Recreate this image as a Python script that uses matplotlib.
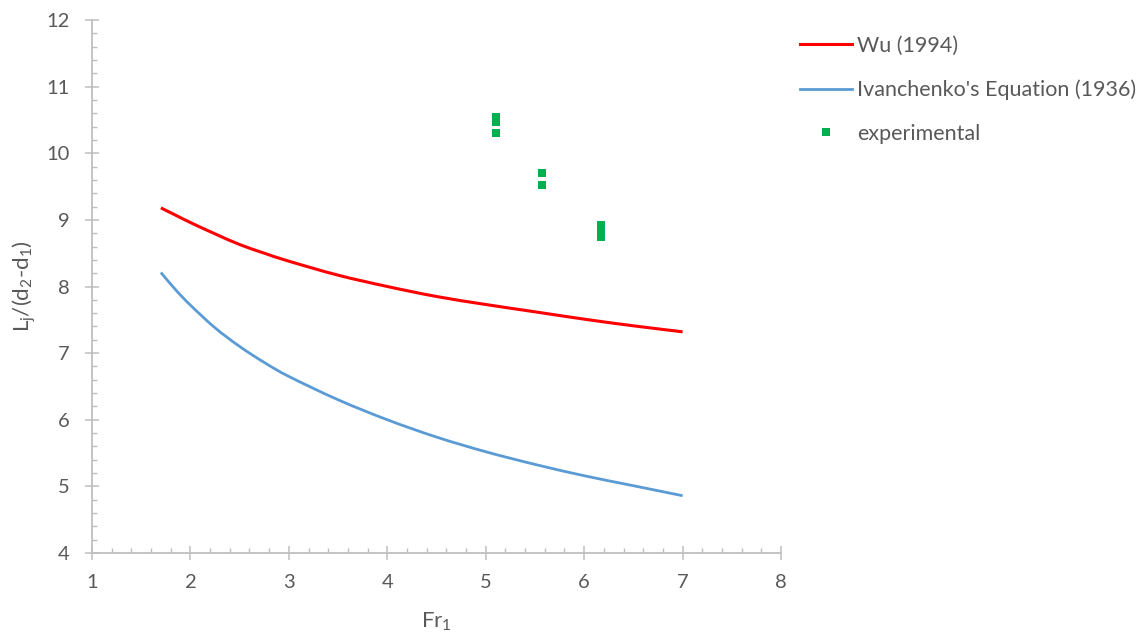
import matplotlib
matplotlib.use("Agg")
import matplotlib.pyplot as plt
from matplotlib.ticker import MultipleLocator
from matplotlib.path import Path
from matplotlib.patches import PathPatch
from matplotlib.lines import Line2D

# Data
fr_curve = [1.7, 1.85, 2.0, 2.25, 2.5, 2.75, 3.0, 3.5, 4.0, 4.5, 5.0, 5.5, 6.0, 6.5, 7.0]
wu_1994 = [9.18, 9.07, 8.96, 8.79, 8.63, 8.50, 8.38, 8.17, 8.00, 7.85, 7.73, 7.62, 7.51, 7.41, 7.32]
ivanchenko_1936 = [8.21, 7.95, 7.72, 7.38, 7.10, 6.86, 6.65, 6.30, 6.00, 5.74, 5.52, 5.33, 5.16, 5.01, 4.86]

fr_exp = [5.1, 5.1, 5.1, 5.57, 5.57, 6.17, 6.17, 6.17]
lj_exp = [10.55, 10.47, 10.31, 9.70, 9.53, 8.92, 8.83, 8.75]

x_ticks = [1, 2, 3, 4, 5, 6, 7, 8]
y_ticks = [4, 5, 6, 7, 8, 9, 10, 11, 12]

plt.rcParams['font.family'] = ['Lato', 'DejaVu Sans']
txt = '#595959'
axc = '#BFBFBF'


def smooth_path(xs, ys):
    # Catmull-Rom style smoothed line (as a spreadsheet "smoothed line"), as cubic Bezier path
    verts = [(xs[0], ys[0])]
    codes = [Path.MOVETO]
    n = len(xs)
    for i in range(n - 1):
        x0, y0 = (xs[i - 1], ys[i - 1]) if i > 0 else (xs[i], ys[i])
        x1, y1 = xs[i], ys[i]
        x2, y2 = xs[i + 1], ys[i + 1]
        x3, y3 = (xs[i + 2], ys[i + 2]) if i + 2 < n else (xs[i + 1], ys[i + 1])
        c1 = (x1 + (x2 - x0) / 6.0, y1 + (y2 - y0) / 6.0)
        c2 = (x2 - (x3 - x1) / 6.0, y2 - (y3 - y1) / 6.0)
        verts += [c1, c2, (x2, y2)]
        codes += [Path.CURVE4, Path.CURVE4, Path.CURVE4]
    return Path(verts, codes)


fig = plt.figure(figsize=(11.46, 6.37), dpi=100)
ax = fig.add_axes([92/1146, 1-553/637, (781-92)/1146, (553-20)/637])

ax.add_patch(PathPatch(smooth_path(fr_curve, wu_1994), facecolor='none',
                       edgecolor='#FF0000', lw=2.2, capstyle='butt'))
ax.add_patch(PathPatch(smooth_path(fr_curve, ivanchenko_1936), facecolor='none',
                       edgecolor='#5B9BD5', lw=2.0, capstyle='butt'))
l3, = ax.plot(fr_exp, lj_exp, ls='none', marker='s', ms=6.1, mew=0, color='#00B050',
              label='experimental')

l1 = Line2D([], [], color='#FF0000', lw=2.2, label='Wu (1994)')
l2 = Line2D([], [], color='#5B9BD5', lw=2.0, label="Ivanchenko's Equation (1936)")

ax.set_xlim(1, 8)
ax.set_ylim(4, 12)
ax.set_xticks(x_ticks)
ax.set_yticks(y_ticks)
ax.xaxis.set_minor_locator(MultipleLocator(0.2))
ax.yaxis.set_minor_locator(MultipleLocator(0.2))

for s in ['top', 'right']:
    ax.spines[s].set_visible(False)
for s in ['left', 'bottom']:
    ax.spines[s].set_color(axc)
    ax.spines[s].set_linewidth(1.3)

ax.tick_params(which='major', direction='inout', length=9.5, width=1.1, color=axc,
               labelsize=14.5, labelcolor=txt)
ax.tick_params(which='minor', direction='in', length=3.6, width=1.0, color=axc)
ax.tick_params(axis='x', which='major', pad=10.5)
ax.tick_params(axis='y', which='major', pad=11.5)

ax.set_xlabel(r'Fr$_\mathregular{1}$', fontsize=16, color=txt, labelpad=14)
ax.set_ylabel(r'L$_\mathregular{j}$/(d$_\mathregular{2}$-d$_\mathregular{1}$)', fontsize=16,
              color=txt, labelpad=6)

leg = fig.legend(handles=[l1, l2, l3], loc='upper left', bbox_to_anchor=(800/1146, 1-36/637),
                 frameon=False, fontsize=15.5, labelcolor=txt, handlelength=2.4,
                 labelspacing=1.1, handletextpad=0.25, borderaxespad=0, borderpad=0)

fig.savefig('out.png', dpi=100)
